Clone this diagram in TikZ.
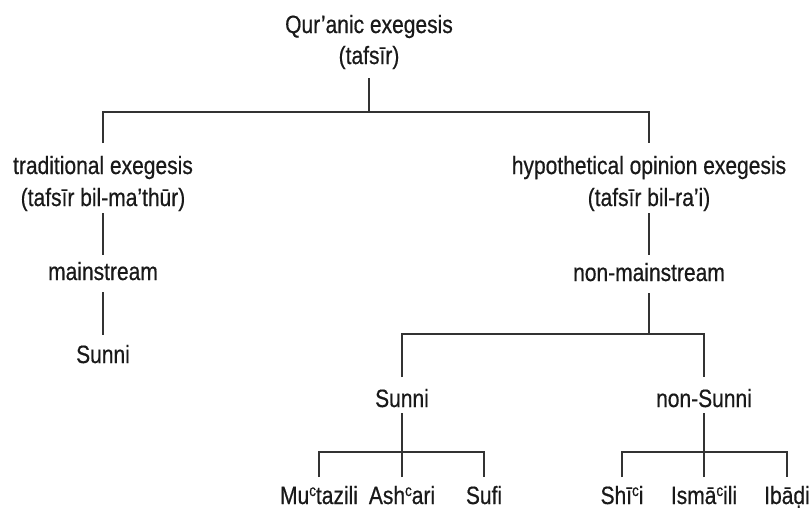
\documentclass[tikz,border=0pt]{standalone}
\usepackage{fontspec}
\setmainfont{Liberation Sans}[FakeStretch=0.84,FakeBold=0.5]
\newcommand{\ayn}{\raisebox{8pt}{\fontsize{16}{16}\selectfont c}}
\begin{document}
\begin{tikzpicture}[x=1pt,y=-1pt,
  lbl/.style={inner sep=0pt, anchor=base, font=\fontsize{25}{30}\selectfont, text=black!90},
  conn/.style={draw=black!80, line width=1.4pt}]
\useasboundingbox[fill=white] (0,0) rectangle (812,512);
% labels
\node[lbl] (rootA) at (369,33) {Qur’anic exegesis};
\node[lbl] (rootB) at (369,64) {(tafsīr)};
\node[lbl] (tradA) at (103,174) {traditional exegesis};
\node[lbl] (tradB) at (103,206) {(tafsīr bil-ma’thūr)};
\node[lbl] (hypA) at (649,174) {hypothetical opinion exegesis};
\node[lbl] (hypB) at (649,206) {(tafsīr bil-ra’i)};
\node[lbl] (main) at (103,280) {mainstream};
\node[lbl] (sunniL) at (103,363) {Sunni};
\node[lbl] (nonmain) at (649,281) {non-mainstream};
\node[lbl] (sunniR) at (402,407) {Sunni};
\node[lbl] (nonsunni) at (704,407) {non-Sunni};
\node[lbl] (mut) at (319,504) {Mu\ayn tazili};
\node[lbl] (ash) at (402,504) {Ash\ayn ari};
\node[lbl] (sufi) at (484,504) {Sufi};
\node[lbl] (shii) at (622,504) {Shī\ayn i};
\node[lbl] (ism) at (704,504) {Ismā\ayn ili};
\node[lbl] (iba) at (787,504) {Ibāḍi};
% junctions
\coordinate (j0) at (369,112);
\coordinate (j1) at (649,334);
\coordinate (j2) at (402,452);
\coordinate (j3) at (704,452);
% connectors
\draw[conn] ([yshift=-14pt]rootB.base) -- (j0);
\draw[conn] ([yshift=31pt]tradA.base) |- (j0) -| ([yshift=31pt]hypA.base);
\draw[conn] ([yshift=-7pt]tradB.base) -- ([yshift=25pt]main.base);
\draw[conn] ([yshift=-12pt]main.base) -- ([yshift=28pt]sunniL.base);
\draw[conn] ([yshift=-7pt]hypB.base) -- ([yshift=26pt]nonmain.base);
\draw[conn] ([yshift=-12pt]nonmain.base) -- (j1);
\draw[conn] ([yshift=30pt]sunniR.base) |- (j1) -| ([yshift=30pt]nonsunni.base);
\draw[conn] ([yshift=-6pt]sunniR.base) -- (j2);
\draw[conn] ([yshift=27pt]mut.base) |- (j2) -| ([yshift=27pt]sufi.base);
\draw[conn] ([yshift=27pt]ash.base) -- (j2);
\draw[conn] ([yshift=-6pt]nonsunni.base) -- (j3);
\draw[conn] ([yshift=27pt]shii.base) |- (j3) -| ([yshift=27pt]iba.base);
\draw[conn] ([yshift=27pt]ism.base) -- (j3);
\end{tikzpicture}
\end{document}
